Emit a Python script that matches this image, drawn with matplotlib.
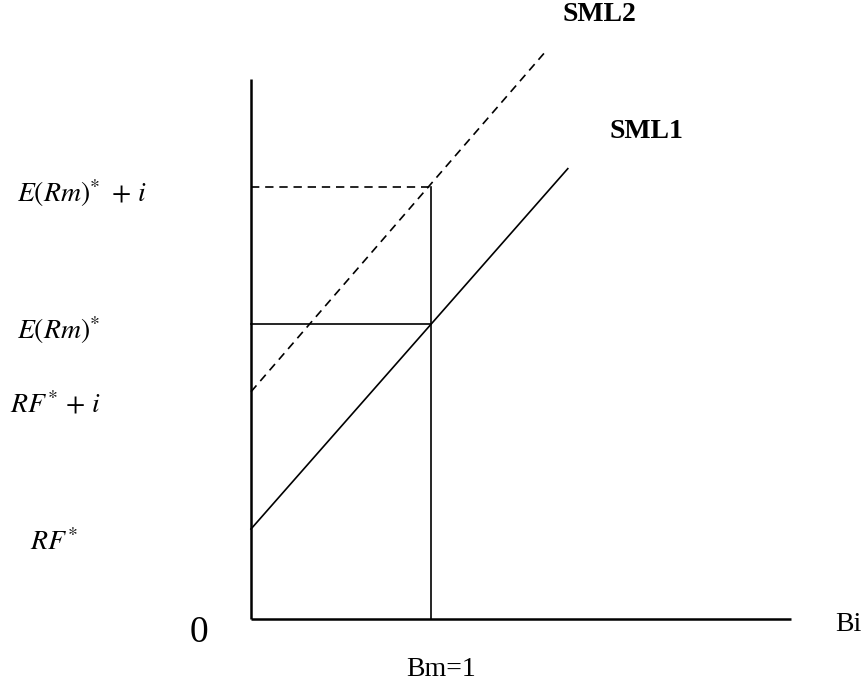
import matplotlib.pyplot as plt
import numpy as np

plt.rcParams['font.family'] = ['Liberation Serif', 'DejaVu Serif']
plt.rcParams['mathtext.fontset'] = 'stix'

# Model values (arbitrary units)
rf = 2.0          # risk-free rate RF*
erm = 6.55        # expected market return E(Rm)*
infl = 3.05       # inflation premium i
beta_m = 1.0
beta_max = 3.0    # end of the beta axis
y_max = 12.0      # top of the return axis
sml1_end = 1.76
sml2_end = 1.63

beta1 = np.array([0.0, sml1_end])
sml1 = rf + (erm - rf) * beta1
beta2 = np.array([0.0, sml2_end])
sml2 = rf + infl + (erm + 0.07 - rf) * beta2

fig = plt.figure(figsize=(8.63, 6.86), dpi=100)
ax = fig.add_axes([0, 0, 1, 1])
ax.set_xlim(-251 / 180, 612 / 180)
ax.set_ylim(-67 / 45, 619 / 45)
ax.axis('off')

# axes
ax.plot([0, 0], [0, y_max], color='black', lw=1.8, solid_capstyle='butt')
ax.plot([0, beta_max], [0, 0], color='black', lw=1.8, solid_capstyle='butt')

# security market lines
ax.plot(beta1, sml1, color='black', lw=1.2)
ax.plot(beta2, sml2, color='black', lw=1.2, linestyle=(0, (5, 3.5)))

# guides
ax.plot([beta_m, beta_m], [0, erm + infl], color='black', lw=1.2)
ax.plot([0, beta_m], [erm, erm], color='black', lw=1.2)
ax.plot([0, beta_m], [erm + infl, erm + infl], color='black', lw=1.2,
        linestyle=(0, (5, 3.5)))

# labels
fs = 20
ax.text(-1.30, 9.47, r'$E(Rm)^{*}\ +\,i$', fontsize=fs, va='center', ha='left')
ax.text(-1.30, 6.42, r'$E(Rm)^{*}$', fontsize=fs, va='center', ha='left')
ax.text(-1.339, 4.76, r'$RF^{*}\,+\,i$', fontsize=fs, va='center', ha='left')
ax.text(-1.228, 1.69, r'$RF^{*}$', fontsize=fs, va='center', ha='left')
ax.text(-0.339, -0.31, '0', fontsize=27, va='center', ha='left')
ax.text(1.056, -1.13, 'Bm=1', fontsize=fs, va='center', ha='center')
ax.text(3.244, -0.13, 'Bi', fontsize=fs, va='center', ha='left')
ax.text(1.733, 13.28, 'SML2', fontsize=fs, fontweight='bold', va='baseline', ha='left')
ax.text(1.994, 10.69, 'SML1', fontsize=fs, fontweight='bold', va='baseline', ha='left')

fig.savefig('out.png', dpi=100)
